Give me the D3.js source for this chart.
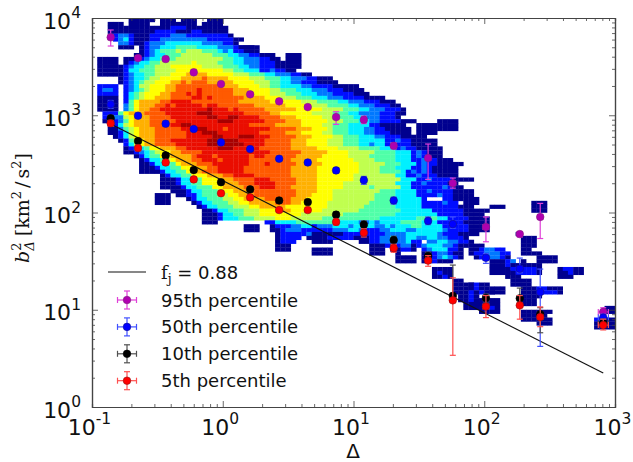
<!DOCTYPE html>
<html>
<head>
<meta charset="utf-8">
<script src="https://cdn.jsdelivr.net/npm/d3@7"></script>
<style>
  html, body { margin: 0; background: #fff; }
  svg { display: block; }
  text { font-family: 'DejaVu Sans', sans-serif; fill: #111; }
</style>
</head>
<body>
<div id="chart"></div>
<script>
// Percentile curves
const delta = [0.139, 0.225, 0.366, 0.6, 0.97, 1.62, 2.7, 4.47, 7.36, 12, 20.3, 37.2, 57.5, 103, 187, 268, 813];
const deltaLo = [0.133, 0.215, 0.35, 0.575, 0.93, 1.55, 2.58, 4.28, 7.05, 11.5, 19.4, 35.6, 55, 98, 179, 256, 745];
const deltaHi = [0.145, 0.235, 0.383, 0.627, 1.01, 1.69, 2.82, 4.67, 7.7, 12.5, 21.2, 38.9, 60, 108, 195, 280, 890];

const p95 = [6330, 3875, 3785, 2760, 2095, 1640, 1390, 1213, 957, 899, 485, 363, 200, 71, 60, 90, 9.5];
const p95Lo = [5150, 3650, 3550, 2600, 1980, 1560, 1320, 1150, 805, 820, 450, 219, 178, 50, 56, 54, 8.4];
const p95Hi = [7530, 4100, 4020, 2920, 2210, 1720, 1460, 1280, 1087, 980, 520, 506, 226, 90, 63, 124, 10.5];

const p50 = [1294, 988, 818, 722, 526, 449, 357, 327, 271, 215, 133, 82, 76, 34.2, 26.4, 15.2, 8.3];
const p50Lo = [1180, 930, 770, 680, 495, 425, 338, 310, 255, 195, 122, 75, 69, 30, 24, 4.2, 7.6];
const p50Hi = [1410, 1050, 870, 765, 555, 475, 378, 345, 288, 235, 144, 90, 90, 38, 34, 26.2, 9];

const p10 = [929, 543, 386, 273, 205, 173, 133, 128, 95, 75, 52, 35.6, 13.9, 13.2, 13.1, 9, 7.3];
const p10Lo = [860, 510, 365, 258, 194, 163, 125, 120, 89, 68, 47, 32, 12, 12, 11, 5.8, 6.6];
const p10Hi = [1000, 575, 408, 288, 216, 183, 141, 136, 101, 82, 57, 39, 28.8, 14.5, 16.7, 10.5, 8];

const p5 = [826, 460, 327, 219, 158, 143, 106, 106, 80, 62, 43, 32, 12.5, 10.8, 11.1, 8.4, 6.95];
const p5Lo = [770, 430, 308, 206, 149, 134, 100, 100, 74, 56, 39, 28, 3.4, 8.3, 8, 6.7, 6.2];
const p5Hi = [885, 490, 346, 232, 167, 152, 112, 112, 86, 68, 47, 36, 21.3, 14, 14, 10.7, 8];

const fitDelta = [0.139, 813];
const fitB2 = [813, 2.24];

// Heat map levels per log bin, one entry per row from the top: "column:levels"
const heatRows = [
  '7:11111 13:111 17:111 22:111',
  '3:111 7:1111 13:1111 17:111 21:1111',
  '3:111 6:11 8:111111 14:12221 19:11111 24:11',
  '3:1111 7:11111 12:2222 16:11122 21:11111',
  '4:23321112222333222222221',
  '4:2342111223333333332222211',
  '5:3321 9:1233344444443333221',
  '5:111 9:1233444555544443332211 28:1111',
  '9:1234555656665554342211 31:1',
  '8:112344555666666555443322 32:111 37:111',
  '1:1111 6:11 8:1234455566666666655443332211 37:111',
  '1:1111 6:12 8:34455666666766665554433322211 37:111',
  '1:1111 5:1 6:2344556667777776666555443322211111',
  '1:1111 5:1244555666677787777766554442232211',
  '1:1111 5:1234455666777888877777666555443332211',
  '5:12344566777788889888877776665554433322111',
  '5:123456677788989998888877776665544332221111',
  '1:2222 6:234667778899999999988877776655444433222211111',
  '1:2332 6:23456777889999a9999998887777665554443332221111',
  '1:2222 6:245677788999a9a99999988887776665554443332222111',
  '1:1111 6:2456778889999aa9a999999888877766655544433322221111',
  '1:1121 6:257888899aaaa999999999888888777777666555544333222111',
  '1:1131 6:35788899a9aaaaa9aa99999998888887777766655554433322211',
  '1:1111 6:3578899aaaaaaaaabaaa9a99999888888777776666555443332221',
  '2:222 5:578889999aaaaaabbbaaaaaa9999988777777666655544333322211',
  '2:2333 6:678889999aaaaaaabbaabbaaaa999988877777666555443332221',
  '2:1223 6:5788899999aaaaaaaabbbaaaaaa99998887777766655544332222111 66:1111',
  '3:124678889999aabbaaaaaaaaaaa999998888877776655544442211111 62:1111 66:1111',
  '3:11356788899999aabbbaaa9aaaaaaaa999998887776555444332211111 62:1111 66:1111',
  '3:112467888999999aaabbbaaaaaaaa99999888777766555444332221111 62:1111',
  '4:12467888999999aaaaabbaaabbbaaa999998887777665554443322211111',
  '5:1257788999aaaaaaabbbbbbaaaaa999998887777666555444442232211111',
  '6:2467889999aaaaaabbbbbbbaaaa999998887777666555443442322211111',
  '6:123457788899aaaaaabbbaaaaa99999988888777766665555444232211111',
  '6:112345677889999aaaaaaaaaaaaa999999888887777666665555444232111',
  '8:124557788889aaa9aaaaaa9aa9999998888877777666655555444232111',
  '9:124456788899aaa9aaaaa999999998888877777776666555544422322111',
  '9:11244557888999aaaaaaa999a9999988888777777766666555444232211111',
  '9:111244557788899aaaaa99999999988888777777776666555444223211111',
  '9:111124455788999aaaaa99999999988888777777776666555542323211111',
  '13:124455777888 25:99aaaa999999988888777777766666666442232221111',
  '13:111244557778889999aaa999998888777777766666666644422322221111',
  '13:111244557778888999aaaa99998888777776666666666444223222211',
  '13:11112445557788889 30:99aaa999888887777766666566666442222223211',
  '15:1112445556778889999999998888777666666666555444422322221111',
  '12:111 16:11 18:2245556677888999999998887777666666665555444422223221111',
  '12:111 18:1244555667788889999988877777666666665555444442 67:2211111',
  '12:111 19:124455566778888899988777776666666655555444442222322 71:111 84:111',
  '20:12445556667788888777777776666666555555444442222222111 76:111 84:111',
  '21:1124455566677788877777766666665555555544444422222211111 84:111',
  '21:111244556667777777766666666555555555544444444222221111',
  '21:1112444555666677766666655555555555444444455554422221111',
  '21:111 33:2244445555555444443343444455554442222211111',
  '29:111 34:1222 38:3344 42:2333444 49:3 50:4444 54:33434 59:4455 63:4444 67:22222 72:1111',
  '29:111 34:1123 38:3322 42:2222 46:3 47:3344 51:3222 55:3 56:3444 60:3344 64:4443 68:22221 73:111',
  '35:1222 39:223 42:1111 46:11222222 54:22333344 62:4444 66:3222 70:1111 81:1',
  '35:12222 41:111122 47:222 50:1 51:1122334 58:3344 62:33 64:4433 68:2 69:22 71:1 82:111',
  '35:1222 42:1111 51:11 53:2233 57:3334 61:22 64:3344 68:3322 72:1 82:111',
  '35:111 53:1112 57:1233 61:1 62:2 63:3444 67:3321 71:1111 82:111',
  '35:111 42:1111 53:111 57:1122 61:1 63:2344 67:4221 72:1123322 82:11',
  '42:1111 53:111 58:1 63:11233211 72:1223 76:3322 82:1111',
  '58:1111 63:1123 67:4321 73:1223 77:321 85:1111',
  '58:1111 63:112111 76:11123 82:1 85:1111',
  '76:1112 80:11 82:1111',
  '65:1111 76:1111 79:1222221 89:12211',
  '65:1211 76:1111 79:1122221 89:11211',
  '65:1121 79:111 89:111',
  '69:11 80:1111',
  '69:1111 72:1211 80:1111',
  '69:1111 72:1211 76:111 82:11122111',
  '69:11121211 76:111 82:11112221',
  '70:1121 82:1111',
  '70:1121 74:1111 82:111',
  '71:1111 74:1111 82:111',
  '71:111 74:1221 98:11',
  '74:1111 82:111 85:111 98:11',
  '82:11111',
  '82:111111 96:2211',
  '85:111 96:1111',
  '96:1111',
];
const heatLevels = [1, 2, 3, 4, 5, 6, 7, 8, 9, 10, 11];

const xTicks = [0.1, 1, 10, 100, 1000];
const yTicks = [1, 10, 100, 1000, 10000];
const seriesNames = ['95th percentile', '50th percentile', '10th percentile', '5th percentile'];

const width = 633;
const height = 462;
const margin = { top: 18, right: 18, bottom: 55, left: 92 };
const binDex = 0.04;

const heatColor = d3.scaleOrdinal()
  .domain(heatLevels)
  .range(['#00008f', '#0010ff', '#0078ff', '#00f0ff', '#50ffa8', '#c0ff50', '#ffff00', '#ffb000', '#ff5a00', '#ea1000', '#a80000']);

const x = d3.scaleLog().domain([0.1, 1000]).range([margin.left, width - margin.right]);
const y = d3.scaleLog().domain([1, 10000]).range([height - margin.bottom, margin.top]);

const svg = d3.select('#chart').append('svg')
  .attr('width', width)
  .attr('height', height);

svg.append('defs').append('filter')
  .attr('id', 'soft')
  .append('feGaussianBlur')
  .attr('stdDeviation', 0.55);

// expand the row strings to cells
const cells = heatRows.flatMap((row, i) =>
  row.split(' ').flatMap((segment) => {
    const [start, levels] = segment.split(':');
    return Array.from(levels, (ch, k) => ({ row: i, col: +start + k, level: parseInt(ch, 16) }));
  })
);
const binX = (col) => x(Math.pow(10, -1 + col * binDex));
const binY = (row) => y(Math.pow(10, 4 - row * binDex));

svg.append('g')
  .attr('filter', 'url(#soft)')
  .selectAll('rect')
  .data(cells)
  .join('rect')
  .attr('x', (d) => binX(d.col))
  .attr('y', (d) => binY(d.row))
  .attr('width', (d) => binX(d.col + 1) - binX(d.col) + 0.3)
  .attr('height', (d) => binY(d.row + 1) - binY(d.row) + 0.3)
  .attr('fill', (d) => heatColor(d.level));

// axes, all four sides with inward ticks
const isMajor = (v) => Number.isInteger(Math.round(Math.log10(v) * 1e6) / 1e6);
const minorValues = (scale) => scale.ticks().filter((v) => !isMajor(v));

const drawAxis = (axisFn, scale, translate, ticks) => {
  svg.append('g')
    .attr('class', 'axis')
    .attr('transform', translate)
    .call(axisFn(scale).tickValues(minorValues(scale)).tickSize(-3).tickFormat(''));
  const major = svg.append('g')
    .attr('class', 'axis')
    .attr('transform', translate)
    .call(axisFn(scale).tickValues(ticks).tickSize(-6).tickSizeOuter(0).tickFormat(''));
  svg.selectAll('.axis path').attr('stroke', '#444').attr('stroke-width', 1.2);
  svg.selectAll('.axis line').attr('stroke', '#444').attr('stroke-width', 0.8);
  return major;
};

const xAxisBottom = drawAxis(d3.axisBottom, x, `translate(0,${height - margin.bottom})`, xTicks);
drawAxis(d3.axisTop, x, `translate(0,${margin.top})`, xTicks);
const yAxisLeft = drawAxis(d3.axisLeft, y, `translate(${margin.left},0)`, yTicks);
drawAxis(d3.axisRight, y, `translate(${width - margin.right},0)`, yTicks);

const powerLabel = (sel) => {
  sel.each(function (d) {
    const t = d3.select(this)
      .attr('font-size', 22)
      .attr('fill', '#111');
    t.text(null);
    t.append('tspan').text('10');
    t.append('tspan')
      .attr('font-size', 15.5)
      .attr('dy', -10.5)
      .text(Math.round(Math.log10(d)));
  });
};

xAxisBottom.selectAll('.tick text')
  .attr('x', -3)
  .attr('y', 12)
  .attr('dy', '0.71em')
  .call(powerLabel);
yAxisLeft.selectAll('.tick text')
  .attr('x', -11)
  .attr('dy', 10)
  .call(powerLabel);

// fit line
const fitLine = d3.line()
  .x((d) => x(d[0]))
  .y((d) => y(d[1]));

svg.append('path')
  .attr('d', fitLine(d3.zip(fitDelta, fitB2)))
  .attr('fill', 'none')
  .attr('stroke', '#111')
  .attr('stroke-width', 1.2);

// percentile series
const series = [
  { values: p95, lo: p95Lo, hi: p95Hi, dot: '#b000b0', bar: '#e040d8', edge: '#802080' },
  { values: p50, lo: p50Lo, hi: p50Hi, dot: '#0000ff', bar: '#4050ff', edge: '#101090' },
  { values: p10, lo: p10Lo, hi: p10Hi, dot: '#000000', bar: '#505050', edge: '#000000' },
  { values: p5, lo: p5Lo, hi: p5Hi, dot: '#ff0000', bar: '#ff5050', edge: '#901010' },
];

const drawErrorMark = (g, cx, cy, x0, x1, y0, y1, s) => {
  const cap = 3;
  const segments = [
    [x0, cy, x1, cy],
    [cx, y0, cx, y1],
    [cx - cap, y0, cx + cap, y0],
    [cx - cap, y1, cx + cap, y1],
    [x0, cy - cap, x0, cy + cap],
    [x1, cy - cap, x1, cy + cap],
  ];
  g.selectAll('line')
    .data(segments)
    .join('line')
    .attr('x1', (d) => d[0])
    .attr('y1', (d) => d[1])
    .attr('x2', (d) => d[2])
    .attr('y2', (d) => d[3])
    .attr('stroke', s.bar)
    .attr('stroke-width', 1.2);
  g.append('circle')
    .attr('cx', cx)
    .attr('cy', cy)
    .attr('r', 3.8)
    .attr('fill', s.dot)
    .attr('stroke', s.edge)
    .attr('stroke-width', 0.6);
};

series.forEach((s) => {
  svg.append('g')
    .selectAll('g')
    .data(delta)
    .join('g')
    .each(function (d, i) {
      drawErrorMark(d3.select(this), x(d), y(s.values[i]), x(deltaLo[i]), x(deltaHi[i]), y(s.lo[i]), y(s.hi[i]), s);
    });
});

// legend
const legend = svg.append('g');

legend.append('line')
  .attr('x1', 108)
  .attr('x2', 146)
  .attr('y1', 272)
  .attr('y2', 272)
  .attr('stroke', '#111')
  .attr('stroke-width', 1.2);

const fjLabel = legend.append('text')
  .attr('x', 161)
  .attr('y', 278.5)
  .attr('font-size', 18);
fjLabel.append('tspan').style('font-family', 'DejaVu Serif').text('f');
fjLabel.append('tspan').style('font-family', 'DejaVu Serif').attr('font-size', 12.5).attr('dy', 4).text('j');
fjLabel.append('tspan').attr('dy', -4).text(' = 0.88');

series.forEach((s, i) => {
  const cy = 300 + i * 26.9;
  drawErrorMark(legend.append('g'), 127, cy, 117.5, 136.5, cy - 9, cy + 9, s);
  legend.append('text')
    .attr('x', 161)
    .attr('y', cy + 6.5)
    .attr('font-size', 18)
    .text(seriesNames[i]);
});

// axis titles
svg.append('text')
  .attr('x', 353)
  .attr('y', 457.5)
  .attr('text-anchor', 'middle')
  .attr('font-size', 20)
  .text('Δ');

const yTitle = svg.append('text')
  .attr('transform', 'translate(29,263) rotate(-90)')
  .style('font-family', 'DejaVu Serif')
  .attr('font-size', 19);
yTitle.append('tspan').attr('font-style', 'italic').text('b');
yTitle.append('tspan').attr('font-size', 13).attr('dy', -8).text('2');
yTitle.append('tspan').attr('font-size', 13).attr('dy', 13).attr('dx', -8).attr('font-style', 'italic').text('Δ');
yTitle.append('tspan').attr('dy', -5).attr('dx', 5).text('[km');
yTitle.append('tspan').attr('font-size', 13).attr('dy', -8).text('2');
yTitle.append('tspan').attr('dy', 8).attr('dx', 3).text('/');
yTitle.append('tspan').attr('dx', 3).text('s');
yTitle.append('tspan').attr('font-size', 13).attr('dy', -8).text('2');
yTitle.append('tspan').attr('dy', 8).text(']');
</script>
</body>
</html>
